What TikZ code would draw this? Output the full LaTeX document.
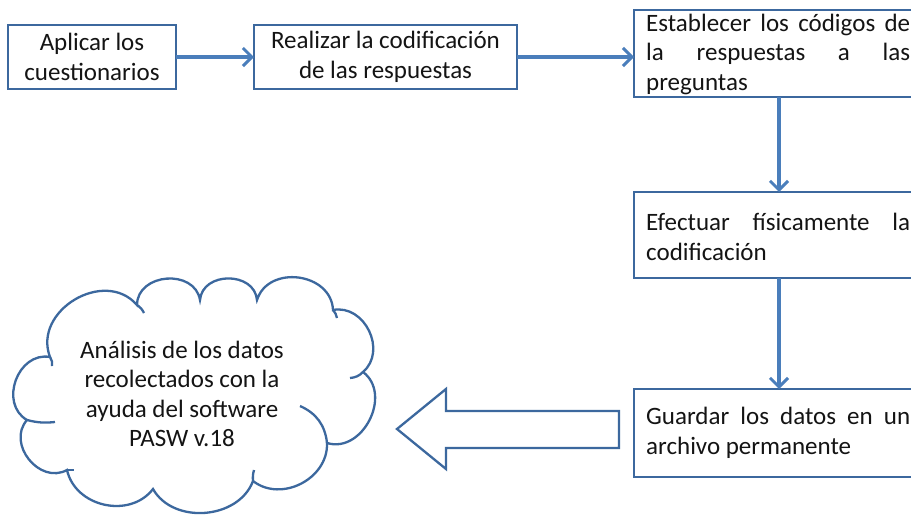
\documentclass[tikz,border=0pt]{standalone}
\usepackage{fontspec}
\setmainfont{Carlito}
\usetikzlibrary{arrows.meta}
\definecolor{boxblue}{HTML}{3C689E}
\definecolor{linkblue}{HTML}{4A7EBB}
\tikzset{
  stepbox/.style={draw=boxblue, line width=2.3pt, fill=white},
  link/.style={draw=linkblue, line width=3.2pt, -{Straight Barb[length=9pt,width=18pt,line width=3pt]}},
  lbl/.style={font=\fontsize{25}{29.5}\selectfont, inner sep=0pt, align=center, text=black!92},
  jlbl/.style={font=\fontsize{25}{29.5}\selectfont, inner sep=0pt, align=justify, text width=264pt, text=black!92, anchor=west},
  puff/.style={draw=boxblue, line width=2.3pt}
}
\begin{document}
\begin{tikzpicture}[x=1pt,y=-1pt]
\useasboundingbox (0,0) rectangle (911,517);
\clip (0,0) rectangle (911,517);
\fill[white] (0,0) rectangle (911,517);

% boxes
\draw[stepbox] (8,25) rectangle (176,89);
\node[lbl] (b1) at (92,57) {Aplicar los\\cuestionarios};
\coordinate (b1e) at (176,57);

\draw[stepbox] (254,25) rectangle (517,89);
\node[lbl] (b2) at (385.5,57) {Realizar la codificación\\de las respuestas};
\coordinate (b2w) at (254,57);
\coordinate (b2e) at (517,57);

\draw[stepbox] (634,10) rectangle (960,97);
\node[jlbl] (b3) at (646,54) {Establecer los códigos de\linebreak la respuestas a las\linebreak preguntas};
\coordinate (b3w) at (634,57);
\coordinate (b3s) at (779,97);

\draw[stepbox] (634,192) rectangle (960,278);
\node[jlbl] (b4) at (646,237) {Efectuar físicamente la\linebreak codificación};
\coordinate (b4n) at (779,192);
\coordinate (b4s) at (779,278);

\draw[stepbox] (634,389) rectangle (960,477);
\node[jlbl] (b5) at (646,433) {Guardar los datos en un\linebreak archivo permanente};
\coordinate (b5n) at (779,389);

% connectors
\draw[link] (b1e) -- (b2w);
\draw[link] (b2e) -- (b3w);
\draw[link] (b3s) -- (b4n);
\draw[link] (b4s) -- (b5n);

% block arrow
\draw[stepbox, line join=miter] (619,411) -- (446,411) -- (446,389) -- (397,429) -- (446,469) -- (446,448) -- (619,448) -- cycle;

% cloud
\coordinate (p1) at (50,357);
\coordinate (p2) at (137,305);
\coordinate (p3) at (200,300);
\coordinate (p4) at (257,300);
\coordinate (p5) at (333,310);
\coordinate (p6) at (363,372);
\coordinate (p7) at (327,443);
\coordinate (p8) at (253,481);
\coordinate (p9) at (153,489);
\coordinate (p10) at (67,470);
\coordinate (p11) at (27,420);
\draw[puff, fill=white] (p1) to[bend left=80, looseness=1.25] (p2) to[bend left=85, looseness=1.3] (p3) to[bend left=85, looseness=1.3] (p4)
  to[bend left=80, looseness=1.25] (p5) to[bend left=75, looseness=1.2] (p6) to[bend left=80, looseness=1.2] (p7) to[bend left=65, looseness=1.1] (p8)
  to[bend left=65, looseness=1.05] (p9) to[bend left=65, looseness=1.1] (p10) to[bend left=80, looseness=1.25] (p11) to[bend left=80, looseness=1.25] (p1) -- cycle;
% inner arcs
\draw[puff] (p1) to[bend left=20] (52,366);
\draw[puff] (p2) to[bend left=15] (144,313);
\draw[puff] (p5) to[bend left=15] (337,318);
\draw[puff] (350,378) to[bend right=20] (p6);
\draw[puff] (300,406) to[bend left=30] (p7);
\draw[puff] (p8) to[bend left=10] (254,470);
\draw[puff] (p10) to[bend left=10] (74,470);
\draw[puff] (p11) to[bend right=10] (55,422);
\node[lbl] (cl) at (182,394) {Análisis de los datos\\recolectados con la\\ayuda del software\\PASW v.18};
\end{tikzpicture}
\end{document}
